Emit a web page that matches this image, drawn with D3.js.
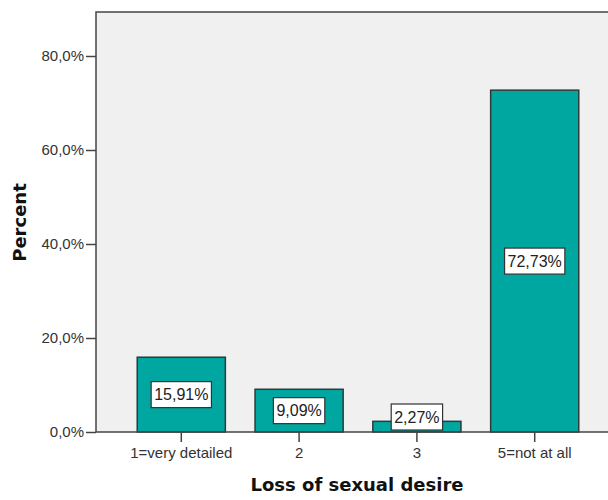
<!DOCTYPE html>
<html>
<head>
<meta charset="utf-8">
<script src="https://cdn.jsdelivr.net/npm/d3@7/dist/d3.min.js"></script>
<style>
  html, body { margin: 0; padding: 0; background: #fff; }
  svg { display: block; }
</style>
</head>
<body>
<svg id="chart" width="608" height="500"></svg>
<script>
// Loss of sexual desire — percent of respondents per answer
const categories = ["1=very detailed", "2", "3", "5=not at all"];
const percents = [15.91, 9.09, 2.27, 72.73];
const yTicks = [0, 20, 40, 60, 80];

const svg = d3.select("#chart");
const plot = { left: 96, top: 12, right: 620, bottom: 432 };
const fmtPct = v => v.toFixed(1).replace(".", ",") + "%";
const fmtLabel = v => v.toFixed(2).replace(".", ",") + "%";
const sans = "'Liberation Sans', Arial, sans-serif";

const y = d3.scaleLinear().domain([0, 20]).range([plot.bottom, plot.bottom - 94]);
const x = d3.scaleBand()
  .domain(categories)
  .range([plot.left, plot.right])
  .paddingInner(0.252)
  .paddingOuter(0.35);

// plot background
svg.append("rect")
  .attr("x", plot.left).attr("y", plot.top)
  .attr("width", 608 - plot.left).attr("height", plot.bottom - plot.top)
  .attr("fill", "#f0f0f0");

// frame: left and top edges
svg.append("path")
  .attr("d", `M${plot.left},${plot.bottom}V${plot.top}H608`)
  .attr("fill", "none").attr("stroke", "#444").attr("stroke-width", 1.5);

// bars
svg.append("g").selectAll("rect")
  .data(percents)
  .join("rect")
  .attr("x", (d, i) => x(categories[i]))
  .attr("y", d => y(d))
  .attr("width", x.bandwidth())
  .attr("height", d => y(0) - y(d))
  .attr("fill", "#00a6a0")
  .attr("stroke", "#2d3b3a")
  .attr("stroke-width", 1.5);

// y axis
const yAxis = d3.axisLeft(y).tickValues(yTicks).tickSize(10).tickPadding(2).tickFormat(fmtPct);
const gy = svg.append("g").attr("transform", `translate(${plot.left},0)`).call(yAxis);
gy.select(".domain").remove();
gy.selectAll(".tick line").attr("stroke", "#444").attr("stroke-width", 1.5);
gy.selectAll(".tick text")
  .attr("font-family", sans)
  .attr("font-size", 15).attr("fill", "#333");

// x axis
const xAxis = d3.axisBottom(x).tickSize(10).tickPadding(5);
const gx = svg.append("g").attr("transform", `translate(0,${plot.bottom})`).call(xAxis);
gx.select(".domain").remove();
gx.selectAll(".tick line").attr("stroke", "#444").attr("stroke-width", 1.5);
gx.selectAll(".tick text")
  .attr("font-family", sans)
  .attr("font-size", 15).attr("fill", "#333");

// baseline
svg.append("line")
  .attr("x1", plot.left).attr("x2", 608)
  .attr("y1", plot.bottom).attr("y2", plot.bottom)
  .attr("stroke", "#444").attr("stroke-width", 1.5);

// value labels in boxes, centred on the bar, kept above the baseline
const labels = svg.append("g").selectAll("g")
  .data(percents)
  .join("g");
labels.each(function (d, i) {
  const g = d3.select(this);
  const cx = x(categories[i]) + x.bandwidth() / 2;
  let cy = (y(d) + y(0)) / 2;
  const h = 26;
  cy = Math.min(cy, plot.bottom - 2 - h / 2);
  const t = g.append("text")
    .attr("x", cx).attr("y", cy)
    .attr("text-anchor", "middle")
    .attr("dominant-baseline", "central")
    .attr("font-family", sans)
    .attr("font-size", 16).attr("fill", "#222")
    .text(fmtLabel(d));
  const w = t.node().getComputedTextLength() + 6;
  g.insert("rect", "text")
    .attr("x", cx - w / 2).attr("y", cy - h / 2)
    .attr("width", w).attr("height", h)
    .attr("fill", "#fff").attr("stroke", "#333").attr("stroke-width", 1.2);
});

// axis titles
svg.append("text")
  .attr("transform", `translate(25.5,222.5) rotate(-90)`)
  .attr("text-anchor", "middle")
  .attr("font-family", "'DejaVu Sans', sans-serif")
  .attr("font-weight", "bold").attr("font-size", 18).attr("fill", "#111")
  .text("Percent");

svg.append("text")
  .attr("x", 357).attr("y", 491)
  .attr("text-anchor", "middle")
  .attr("font-family", "'DejaVu Sans', sans-serif")
  .attr("font-weight", "bold").attr("font-size", 18).attr("fill", "#111")
  .text("Loss of sexual desire");
</script>
</body>
</html>
